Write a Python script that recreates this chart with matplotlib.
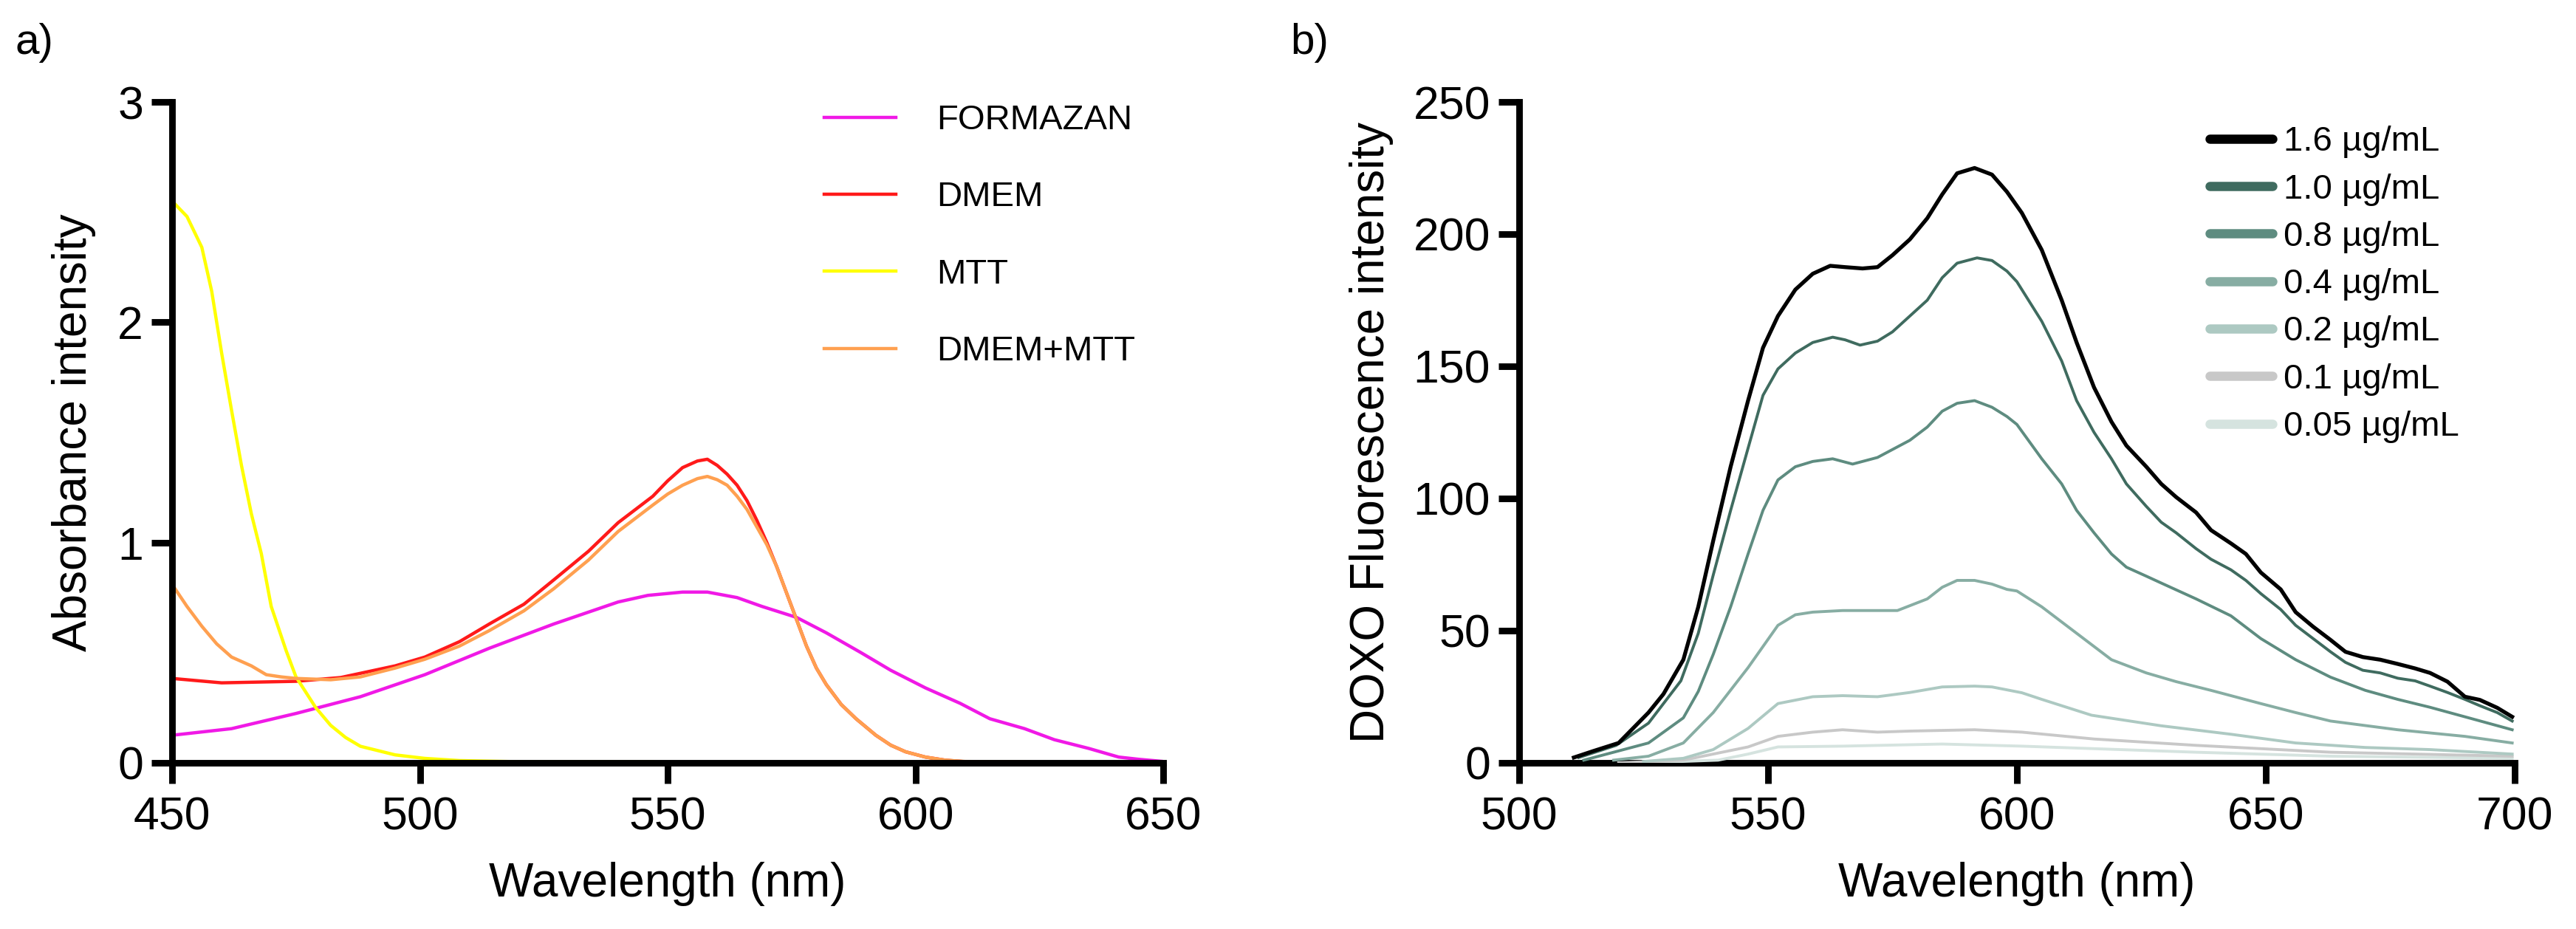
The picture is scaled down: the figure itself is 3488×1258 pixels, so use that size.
import matplotlib
matplotlib.use("Agg")
import matplotlib.pyplot as plt

plt.rcParams['font.family'] = ['Liberation Sans', 'DejaVu Sans']

# ---- panel a) absorbance spectra ----
wl_formazan = [450, 462, 475, 488, 501, 514, 527, 540, 546, 553, 558, 564, 569, 576, 582,
               589, 595, 602, 609, 615, 622, 628, 635, 641, 645, 650]
formazan = [0.125, 0.155, 0.224, 0.30, 0.40, 0.52, 0.63, 0.73, 0.76, 0.775, 0.775, 0.75,
            0.71, 0.66, 0.59, 0.50, 0.42, 0.34, 0.27, 0.20, 0.155, 0.105, 0.065, 0.026,
            0.016, 0.006]

wl_dmem = [450, 460, 475, 484, 495, 501, 508, 514, 521, 527, 534, 540, 547, 550, 553, 556,
           558, 560, 562, 564, 566, 568, 570, 572, 574, 576, 578, 580, 582, 585, 588, 592,
           595, 598, 602, 606, 610]
dmem = [0.383, 0.363, 0.37, 0.387, 0.44, 0.48, 0.55, 0.63, 0.72, 0.83, 0.96, 1.09, 1.21,
        1.28, 1.34, 1.37, 1.378, 1.35, 1.31, 1.26, 1.19, 1.10, 1.00, 0.89, 0.77, 0.65, 0.53,
        0.43, 0.355, 0.265, 0.20, 0.125, 0.08, 0.05, 0.026, 0.012, 0.005]

wl_mtt = [450, 453, 456, 458, 460, 462, 464, 466, 468, 470, 473, 475, 479, 482, 485, 488,
          495, 501, 508, 520, 547]
mtt = [2.55, 2.48, 2.34, 2.14, 1.86, 1.60, 1.35, 1.13, 0.95, 0.71, 0.51, 0.39, 0.25, 0.17,
       0.115, 0.075, 0.036, 0.02, 0.01, 0.005, 0.004]

wl_dmem_mtt = [450, 453, 456, 459, 462, 466, 469, 472, 475, 482, 488, 495, 501, 508, 514,
               521, 527, 534, 540, 547, 550, 553, 556, 558, 560, 562, 564, 566, 568, 570,
               572, 574, 576, 578, 580, 582, 585, 588, 592, 595, 598, 602, 606, 610, 623]
dmem_mtt = [0.81, 0.71, 0.62, 0.54, 0.48, 0.44, 0.40, 0.39, 0.383, 0.377, 0.39, 0.43, 0.47,
            0.53, 0.60, 0.69, 0.79, 0.92, 1.05, 1.17, 1.22, 1.26, 1.29, 1.30, 1.285, 1.26,
            1.21, 1.15, 1.07, 0.99, 0.89, 0.77, 0.65, 0.53, 0.43, 0.355, 0.265, 0.20, 0.125,
            0.08, 0.05, 0.026, 0.012, 0.006, 0.004]

abs_names = ['FORMAZAN', 'DMEM', 'MTT', 'DMEM+MTT']
abs_colors = ['#f019e6', '#ff1a1a', '#ffff00', '#ffa050']

# ---- panel b) DOXO fluorescence ----
wl_16 = [511, 515, 520, 526, 529, 533, 536, 539, 542.5, 546, 549, 552, 555.5, 559, 562.5,
         565.5, 569, 572, 575, 578.5, 582, 585, 588, 591.5, 595, 598, 601, 605, 609, 612,
         615.5, 619, 622, 626, 629, 632, 636, 639, 643, 646, 649, 653, 656, 659.5, 663, 666,
         669.5, 673, 676.5, 680, 683, 686.5, 690, 693, 696.5, 699.5]
c_16 = [2, 4.5, 7.5, 19, 26, 39, 59, 84, 112, 137, 157, 169, 179, 185, 188, 187.5, 187,
        187.5, 192, 198, 206, 215, 223, 225, 222.5, 216, 208, 194, 175, 159, 142, 129, 120,
        112, 105.5, 100.5, 94.7, 88, 83, 79, 72, 65.6, 57, 51.5, 46.5, 42, 40, 39, 37.4,
        35.7, 34, 30.7, 25, 23.8, 20.8, 17.4]

wl_10 = [512, 519.5, 526, 532.5, 536, 539, 542.5, 546, 549, 552, 555.5, 559, 563, 565.5,
         568.5, 572, 575, 578.5, 582, 585, 588, 592, 595, 598, 600, 605, 609, 612, 615.5,
         619, 622, 626, 629, 632, 636, 639, 643, 646, 649, 653, 656, 659.5, 663, 666, 669.5,
         673, 676.5, 680, 683, 686.5, 690, 693, 696.5, 699.5]
c_10 = [2, 6.6, 15, 31, 49, 71, 95.5, 119, 139, 149, 155, 159, 161, 160, 158, 159.5, 163,
        169, 175, 183.5, 189, 191, 190, 186, 182, 167, 152, 137, 125, 115, 105.5, 97, 91, 87,
        81, 77, 73, 69, 64, 58, 52, 47, 42, 38, 35, 34, 32, 31, 29, 26.6, 24, 21.6, 19, 15.8]

wl_08 = [513, 526, 533, 536, 539, 542.5, 546, 549, 552, 555.5, 559, 563, 567, 572, 575,
         578.5, 582, 585, 588, 591.5, 595, 598, 600, 605, 609, 612, 615.5, 619, 622, 626,
         629, 636, 643, 649, 656, 663, 670, 676.5, 683, 690, 699.5]
c_08 = [1, 7.5, 17, 27, 41, 59, 79, 95.5, 107, 112, 114, 115, 113, 115.5, 118.5, 122, 127,
        133, 136, 137, 134.5, 131, 128, 115, 105.5, 95.5, 87, 79, 74, 70.6, 68, 62, 55.6, 47,
        39, 32.4, 27.4, 24, 21, 17.4, 12.5]

wl_04 = [519, 526, 533, 539, 546, 552, 555.5, 559, 565, 572, 576, 582, 585, 588, 591.5,
         595, 598, 600, 605, 612, 619, 626, 632, 639, 649, 656, 663, 676.5, 690, 699.5]
c_04 = [1, 2.5, 7.5, 19, 36, 52, 56, 57, 57.6, 57.6, 57.6, 62, 66.4, 69, 69, 67.6, 65.6,
        65, 59, 49, 39, 34, 30.7, 27.4, 22.4, 19, 15.8, 12.5, 10, 7.5]

wl_02 = [525, 533, 539, 546, 552, 559, 565, 572, 578.5, 585, 591.5, 595, 601, 605, 615,
         629, 643, 656, 670, 683, 699.5]
c_02 = [0.5, 1.7, 5, 13, 22.4, 25, 25.4, 25, 26.6, 28.7, 29, 28.7, 26.5, 24, 18, 14, 10.8,
        7.5, 5.8, 5, 3.3]

wl_01 = [520, 533, 546, 552, 559, 565, 572, 578.5, 591.5, 601, 615.5, 636, 663, 699.5]
c_01 = [0, 1, 6, 10, 11.6, 12.5, 11.6, 12, 12.5, 11.6, 9, 6.6, 4, 2.5]

wl_005 = [525, 540, 546, 552, 565, 585, 601, 636, 663, 699.5]
c_005 = [0, 1, 3.3, 6, 6.3, 7.1, 6.3, 4, 2.5, 1.7]

doxo_names = ['1.6 µg/mL', '1.0 µg/mL', '0.8 µg/mL', '0.4 µg/mL', '0.2 µg/mL',
              '0.1 µg/mL', '0.05 µg/mL']
doxo_colors = ['#000000', '#3f6b5f', '#5e8c80', '#87ada3', '#adc9c2', '#c8c8c8', '#d5e3df']

fig = plt.figure(figsize=(17.44, 6.29), dpi=200)
ax1 = fig.add_axes([0.0668, 0.1789, 0.3848, 0.7114])
ax2 = fig.add_axes([0.5897, 0.1789, 0.3865, 0.7114])

abs_x = [wl_formazan, wl_dmem, wl_mtt, wl_dmem_mtt]
abs_y = [formazan, dmem, mtt, dmem_mtt]
for x, y, name, col in zip(abs_x, abs_y, abs_names, abs_colors):
    ax1.plot(x, y, color=col, lw=1.6, label=name)

doxo_x = [wl_16, wl_10, wl_08, wl_04, wl_02, wl_01, wl_005]
doxo_y = [c_16, c_10, c_08, c_04, c_02, c_01, c_005]
# draw faint ones first so the dark curves sit on top
for i in range(len(doxo_x) - 1, -1, -1):
    ax2.plot(doxo_x[i], doxo_y[i], color=doxo_colors[i], lw=1.9 if i == 0 else 1.4,
             label=doxo_names[i], zorder=10 - i)

ax1.set_xlim(450, 650)
ax1.set_ylim(0, 3)
ax1.set_xticks([450, 500, 550, 600, 650])
ax1.set_yticks([0, 1, 2, 3])
ax1.set_xlabel('Wavelength (nm)', fontsize=23)
ax1.set_ylabel('Absorbance intensity', fontsize=23)
ax1.yaxis.set_label_coords(-0.077, 0.5)
ax1.xaxis.set_label_coords(0.5, -0.15)

ax2.set_xlim(500, 700)
ax2.set_ylim(0, 250)
ax2.set_xticks([500, 550, 600, 650, 700])
ax2.set_yticks([0, 50, 100, 150, 200, 250])
ax2.set_xlabel('Wavelength (nm)', fontsize=23)
ax2.set_ylabel('DOXO Fluorescence intensity', fontsize=23)
ax2.yaxis.set_label_coords(-0.126, 0.5)
ax2.xaxis.set_label_coords(0.5, -0.15)

for ax in (ax1, ax2):
    for s in ('top', 'right'):
        ax.spines[s].set_visible(False)
    for s in ('left', 'bottom'):
        ax.spines[s].set_linewidth(3.2)
    ax.tick_params(axis='both', direction='out', length=10, width=3.2, labelsize=22.5)
    ax.tick_params(axis='y', pad=4)
    ax.tick_params(axis='x', pad=6)

leg1 = ax1.legend(loc='upper left', bbox_to_anchor=(0.658, 0.9966), frameon=False,
                  fontsize=17, handlelength=2.05, handletextpad=1.17, labelspacing=1.28,
                  borderpad=0, borderaxespad=0)

h, l = ax2.get_legend_handles_labels()
leg2 = ax2.legend(h[::-1], l[::-1], loc='upper left', bbox_to_anchor=(0.694, 0.964),
                  frameon=False, fontsize=17, handlelength=1.8, handletextpad=0.3,
                  labelspacing=0.43, borderpad=0, borderaxespad=0)
for lh in leg2.legend_handles:
    lh.set_linewidth(4.5)
    lh.set_solid_capstyle('round')

# panel letters, baseline placed at the same height as in the source figure
fig.text(20 / 3488, 1 - 73 / 1258, 'a)', fontsize=21, ha='left', va='baseline')
fig.text(1747 / 3488, 1 - 73 / 1258, 'b)', fontsize=21, ha='left', va='baseline')

fig.savefig('out.png', dpi=200)
